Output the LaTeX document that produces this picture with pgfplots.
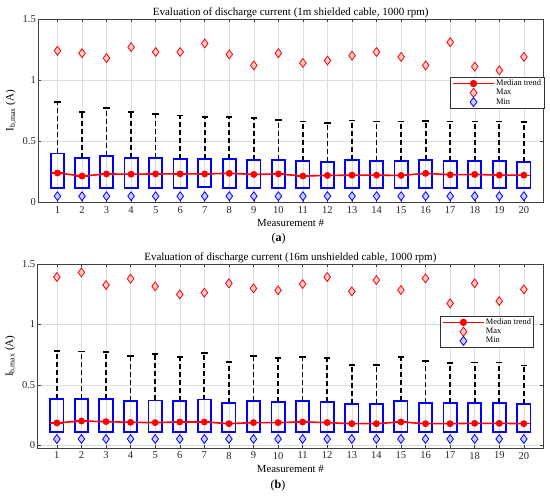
\documentclass[border=0pt]{standalone}
\usepackage{fontspec}
\setmainfont{Liberation Serif}
\usepackage{pgfplots}
\pgfplotsset{compat=1.18}
\usepackage{pgfplotstable}
\usepgfplotslibrary{statistics}

\pgfplotstableread{
x med max min
1 0.240 1.24 0.05
2 0.215 1.22 0.05
3 0.232 1.18 0.05
4 0.230 1.27 0.05
5 0.232 1.23 0.05
6 0.232 1.23 0.05
7 0.232 1.30 0.05
8 0.237 1.21 0.05
9 0.228 1.12 0.05
10 0.232 1.22 0.05
11 0.215 1.14 0.05
12 0.220 1.16 0.05
13 0.222 1.20 0.05
14 0.222 1.23 0.05
15 0.220 1.19 0.05
16 0.237 1.12 0.05
17 0.225 1.31 0.05
18 0.228 1.11 0.05
19 0.222 1.08 0.05
20 0.222 1.19 0.05
}\dataA

\pgfplotstableread{
x med max min
1 0.183 1.394 0.05
2 0.199 1.433 0.05
3 0.194 1.328 0.05
4 0.188 1.380 0.05
5 0.186 1.317 0.05
6 0.191 1.250 0.05
7 0.191 1.264 0.05
8 0.177 1.342 0.05
9 0.186 1.300 0.05
10 0.186 1.284 0.05
11 0.191 1.336 0.05
12 0.186 1.394 0.05
13 0.177 1.275 0.05
14 0.177 1.369 0.05
15 0.191 1.286 0.05
16 0.177 1.383 0.05
17 0.177 1.176 0.05
18 0.180 1.342 0.05
19 0.180 1.195 0.05
20 0.177 1.292 0.05
}\dataB

\pgfplotsset{
  boxplot/draw direction=y,
  boxplot/draw/lower whisker/.code={},
  boxplot/draw/upper whisker/.code={%
    \draw[black, line width=1.7pt, dash pattern=on 5pt off 3pt]
      (boxplot box cs:\pgfplotsboxplotvalue{upper quartile},0.5) --
      (boxplot box cs:\pgfplotsboxplotvalue{upper whisker},0.5);
    \draw[black, line width=1.7pt, solid]
      (boxplot whisker cs:\pgfplotsboxplotvalue{upper whisker},0) --
      (boxplot whisker cs:\pgfplotsboxplotvalue{upper whisker},1);
  },
  boxplot/box extend=0.54,
  boxplot/whisker extend=0.26,
  boxplot/every box/.style={draw=blue, line width=1.8pt},
  boxplot/every median/.style={draw=red, line width=1.3pt},
  bx/.style={draw=blue, line width=1.8pt, solid, forget plot},
  myaxis/.style={
    scale only axis, anchor=south west,
    xmin=0.22, xmax=20.78,
    xtick={1,...,20}, ytick={0,0.5,1,1.5},
    yticklabels={0,0.5,1,1.5},
    grid=major, grid style={black!13, line width=0.5pt},
    tick align=inside, major tick length=3pt,
    axis line style={black!75, line width=0.6pt},
    tick style={black!75, line width=0.5pt},
    /pgf/number format/assume math mode=true,
    tick label style={font=\fontsize{10.5}{12}\selectfont, text=black!85},
    xticklabel style={yshift=-0.5pt},
    yticklabel style={xshift=1pt},
    title style={at={(axis description cs:0.5,1)}, anchor=base, yshift=-2.5pt, font=\fontsize{11}{13}\selectfont},
    xlabel={Measurement \#},
    xlabel style={at={(axis description cs:0.5,-0.133)}, anchor=base, font=\fontsize{10.8}{13}\selectfont},
    ylabel={I\textsubscript{b,max} (A)},
    ylabel style={at={(axis description cs:-0.054,0.5)}, anchor=center, font=\fontsize{11}{13}\selectfont},
    legend style={font=\fontsize{8.4}{9}\selectfont, anchor=north east, draw=black!80, line width=0.5pt,
      fill=white, inner sep=1.5pt, nodes={inner sep=1.2pt}, row sep=-0.5pt, cells={anchor=west}},
  },
  medstyle/.style={draw=red, line width=1.6pt, mark=*, mark size=2.6pt, mark options={solid, draw=red, fill=red},
    legend image code/.code={\draw[red, line width=1.6pt] (0pt,0pt) -- (41pt,0pt);
      \fill[red] (20.5pt,0pt) circle[radius=2.8pt];}},
  maxstyle/.style={only marks, mark=diamond*, mark size=4.4pt, mark options={draw=red, fill=red!20, line width=0.8pt},
    legend image code/.code={\draw[red, fill=red!20, line width=0.8pt] (20.5pt,4.5pt) -- (24pt,0pt) -- (20.5pt,-4.5pt) -- (17pt,0pt) -- cycle;
      \path (0pt,0pt) (41pt,0pt);}},
  minstyle/.style={only marks, mark=diamond*, mark size=4.4pt, mark options={draw=blue, fill=blue!20, line width=0.8pt},
    legend image code/.code={\draw[blue, fill=blue!20, line width=0.8pt] (20.5pt,4.5pt) -- (24pt,0pt) -- (20.5pt,-4.5pt) -- (17pt,0pt) -- cycle;
      \path (0pt,0pt) (41pt,0pt);}},
}

\begin{document}
\begin{tikzpicture}
\useasboundingbox (0,0) rectangle (550pt,499pt);

% ---------- panel (a) ----------
\begin{axis}[myaxis, at={(38.3pt,296.7pt)}, width=504.7pt, height=183.3pt,
  ymin=0, ymax=1.5,
  title={Evaluation of discharge current (1m shielded cable, 1000 rpm)},
  legend style={at={(1.002,0.684)}}]
\addplot[bx, boxplot prepared={draw position=1, median=0.240, lower quartile=0.12, upper quartile=0.400, lower whisker=0.12, upper whisker=0.82}] coordinates {};
\addplot[bx, boxplot prepared={draw position=2, median=0.215, lower quartile=0.117, upper quartile=0.365, lower whisker=0.117, upper whisker=0.74}] coordinates {};
\addplot[bx, boxplot prepared={draw position=3, median=0.232, lower quartile=0.12, upper quartile=0.380, lower whisker=0.12, upper whisker=0.77}] coordinates {};
\addplot[bx, boxplot prepared={draw position=4, median=0.230, lower quartile=0.12, upper quartile=0.365, lower whisker=0.12, upper whisker=0.74}] coordinates {};
\addplot[bx, boxplot prepared={draw position=5, median=0.232, lower quartile=0.12, upper quartile=0.360, lower whisker=0.12, upper whisker=0.72}] coordinates {};
\addplot[bx, boxplot prepared={draw position=6, median=0.232, lower quartile=0.12, upper quartile=0.355, lower whisker=0.12, upper whisker=0.71}] coordinates {};
\addplot[bx, boxplot prepared={draw position=7, median=0.232, lower quartile=0.122, upper quartile=0.355, lower whisker=0.122, upper whisker=0.70}] coordinates {};
\addplot[bx, boxplot prepared={draw position=8, median=0.237, lower quartile=0.12, upper quartile=0.355, lower whisker=0.12, upper whisker=0.70}] coordinates {};
\addplot[bx, boxplot prepared={draw position=9, median=0.228, lower quartile=0.12, upper quartile=0.347, lower whisker=0.12, upper whisker=0.69}] coordinates {};
\addplot[bx, boxplot prepared={draw position=10, median=0.232, lower quartile=0.12, upper quartile=0.347, lower whisker=0.12, upper whisker=0.675}] coordinates {};
\addplot[bx, boxplot prepared={draw position=11, median=0.215, lower quartile=0.12, upper quartile=0.336, lower whisker=0.12, upper whisker=0.66}] coordinates {};
\addplot[bx, boxplot prepared={draw position=12, median=0.220, lower quartile=0.115, upper quartile=0.330, lower whisker=0.115, upper whisker=0.65}] coordinates {};
\addplot[bx, boxplot prepared={draw position=13, median=0.222, lower quartile=0.12, upper quartile=0.345, lower whisker=0.12, upper whisker=0.67}] coordinates {};
\addplot[bx, boxplot prepared={draw position=14, median=0.222, lower quartile=0.12, upper quartile=0.336, lower whisker=0.12, upper whisker=0.66}] coordinates {};
\addplot[bx, boxplot prepared={draw position=15, median=0.220, lower quartile=0.12, upper quartile=0.340, lower whisker=0.12, upper whisker=0.66}] coordinates {};
\addplot[bx, boxplot prepared={draw position=16, median=0.237, lower quartile=0.12, upper quartile=0.345, lower whisker=0.12, upper whisker=0.665}] coordinates {};
\addplot[bx, boxplot prepared={draw position=17, median=0.225, lower quartile=0.12, upper quartile=0.340, lower whisker=0.12, upper whisker=0.66}] coordinates {};
\addplot[bx, boxplot prepared={draw position=18, median=0.228, lower quartile=0.12, upper quartile=0.336, lower whisker=0.12, upper whisker=0.66}] coordinates {};
\addplot[bx, boxplot prepared={draw position=19, median=0.222, lower quartile=0.12, upper quartile=0.336, lower whisker=0.12, upper whisker=0.66}] coordinates {};
\addplot[bx, boxplot prepared={draw position=20, median=0.222, lower quartile=0.12, upper quartile=0.333, lower whisker=0.12, upper whisker=0.655}] coordinates {};
\addplot[medstyle] table[x=x, y=med] {\dataA};
\addlegendentry{Median trend}
\addplot[maxstyle] table[x=x, y=max] {\dataA};
\addlegendentry{Max}
\addplot[minstyle] table[x=x, y=min] {\dataA};
\addlegendentry{Min}
\end{axis}

% ---------- panel (b) ----------
\begin{axis}[myaxis, at={(37.7pt,51pt)}, width=505.3pt, height=183.7pt,
  ymin=-0.025, ymax=1.5,
  title={Evaluation of discharge current (16m unshielded cable, 1000 rpm)},
  legend style={at={(0.982,0.72)}}]
\addplot[bx, boxplot prepared={draw position=1, median=0.183, lower quartile=0.11, upper quartile=0.382, lower whisker=0.11, upper whisker=0.783}] coordinates {};
\addplot[bx, boxplot prepared={draw position=2, median=0.199, lower quartile=0.11, upper quartile=0.382, lower whisker=0.11, upper whisker=0.777}] coordinates {};
\addplot[bx, boxplot prepared={draw position=3, median=0.194, lower quartile=0.11, upper quartile=0.380, lower whisker=0.11, upper whisker=0.772}] coordinates {};
\addplot[bx, boxplot prepared={draw position=4, median=0.188, lower quartile=0.11, upper quartile=0.365, lower whisker=0.11, upper whisker=0.739}] coordinates {};
\addplot[bx, boxplot prepared={draw position=5, median=0.186, lower quartile=0.11, upper quartile=0.370, lower whisker=0.11, upper whisker=0.755}] coordinates {};
\addplot[bx, boxplot prepared={draw position=6, median=0.191, lower quartile=0.11, upper quartile=0.362, lower whisker=0.11, upper whisker=0.730}] coordinates {};
\addplot[bx, boxplot prepared={draw position=7, median=0.191, lower quartile=0.11, upper quartile=0.377, lower whisker=0.11, upper whisker=0.763}] coordinates {};
\addplot[bx, boxplot prepared={draw position=8, median=0.177, lower quartile=0.11, upper quartile=0.349, lower whisker=0.11, upper whisker=0.690}] coordinates {};
\addplot[bx, boxplot prepared={draw position=9, median=0.186, lower quartile=0.11, upper quartile=0.365, lower whisker=0.11, upper whisker=0.739}] coordinates {};
\addplot[bx, boxplot prepared={draw position=10, median=0.186, lower quartile=0.11, upper quartile=0.360, lower whisker=0.11, upper whisker=0.720}] coordinates {};
\addplot[bx, boxplot prepared={draw position=11, median=0.191, lower quartile=0.11, upper quartile=0.365, lower whisker=0.11, upper whisker=0.730}] coordinates {};
\addplot[bx, boxplot prepared={draw position=12, median=0.186, lower quartile=0.11, upper quartile=0.357, lower whisker=0.11, upper whisker=0.720}] coordinates {};
\addplot[bx, boxplot prepared={draw position=13, median=0.177, lower quartile=0.11, upper quartile=0.338, lower whisker=0.11, upper whisker=0.664}] coordinates {};
\addplot[bx, boxplot prepared={draw position=14, median=0.177, lower quartile=0.11, upper quartile=0.338, lower whisker=0.11, upper whisker=0.664}] coordinates {};
\addplot[bx, boxplot prepared={draw position=15, median=0.191, lower quartile=0.11, upper quartile=0.362, lower whisker=0.11, upper whisker=0.728}] coordinates {};
\addplot[bx, boxplot prepared={draw position=16, median=0.177, lower quartile=0.11, upper quartile=0.349, lower whisker=0.11, upper whisker=0.700}] coordinates {};
\addplot[bx, boxplot prepared={draw position=17, median=0.177, lower quartile=0.11, upper quartile=0.346, lower whisker=0.11, upper whisker=0.680}] coordinates {};
\addplot[bx, boxplot prepared={draw position=18, median=0.180, lower quartile=0.11, upper quartile=0.346, lower whisker=0.11, upper whisker=0.686}] coordinates {};
\addplot[bx, boxplot prepared={draw position=19, median=0.180, lower quartile=0.11, upper quartile=0.346, lower whisker=0.11, upper whisker=0.686}] coordinates {};
\addplot[bx, boxplot prepared={draw position=20, median=0.177, lower quartile=0.11, upper quartile=0.338, lower whisker=0.11, upper whisker=0.660}] coordinates {};
\addplot[medstyle] table[x=x, y=med] {\dataB};
\addlegendentry{Median trend}
\addplot[maxstyle] table[x=x, y=max] {\dataB};
\addlegendentry{Max}
\addplot[minstyle] table[x=x, y=min] {\dataB};
\addlegendentry{Min}
\end{axis}

\node[anchor=base, font=\fontsize{12}{14}\selectfont] at (278.5pt,257pt) {(\textbf{a})};
\node[anchor=base, font=\fontsize{12}{14}\selectfont] at (278pt,10.7pt) {(\textbf{b})};
\end{tikzpicture}
\end{document}
